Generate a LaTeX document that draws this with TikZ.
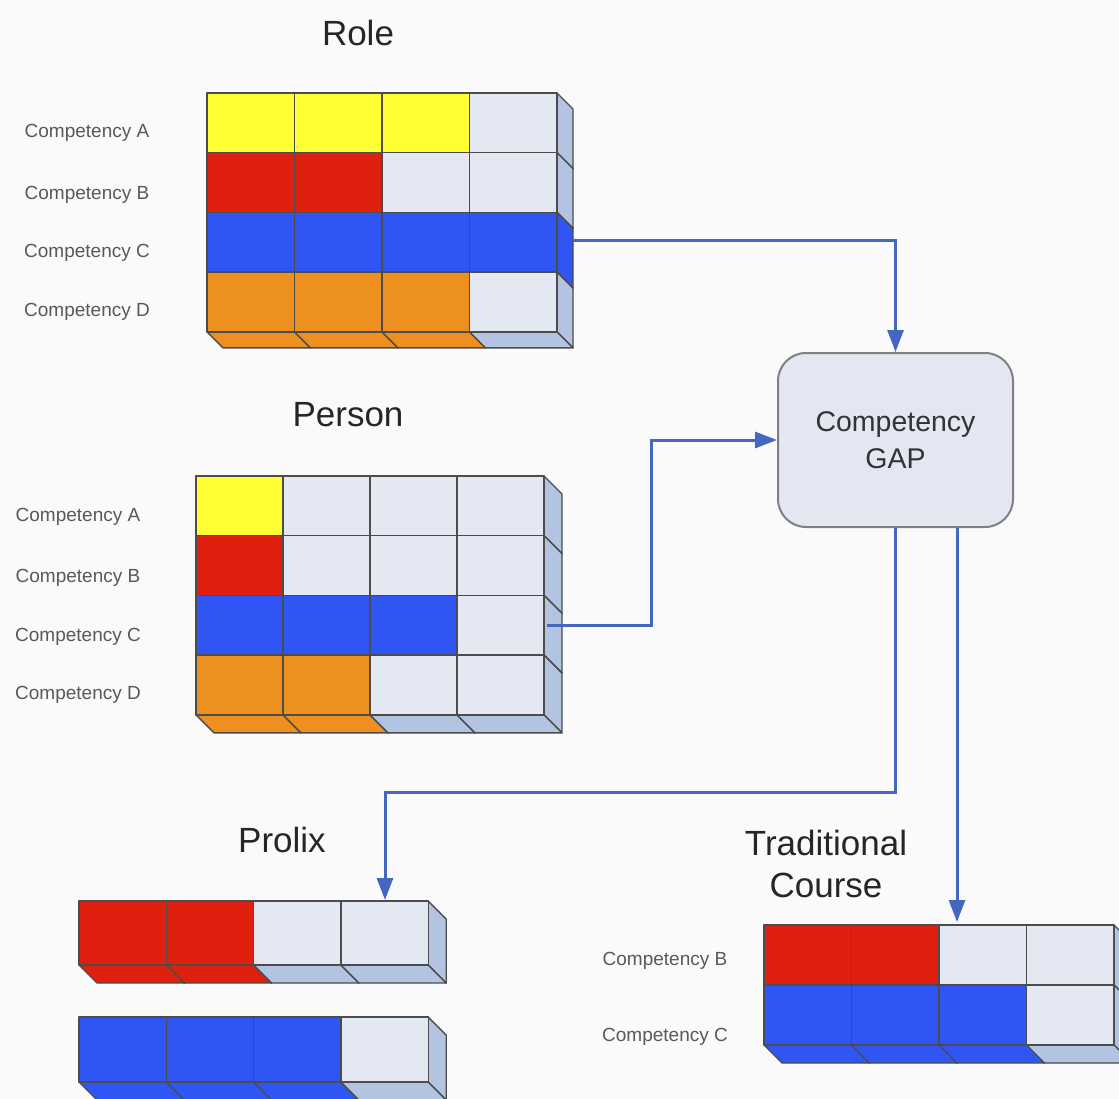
\documentclass[tikz,border=0pt]{standalone}
\usepackage{fontspec}
\setmainfont{Liberation Sans}
\usetikzlibrary{arrows.meta}

\definecolor{cY}{HTML}{FFFF33}
\definecolor{cR}{HTML}{E0200E}
\definecolor{cB}{HTML}{2F56F5}
\definecolor{cO}{HTML}{EE9020}
\definecolor{cE}{HTML}{E4E8F2}
\colorlet{sY}{cY}
\colorlet{sR}{cR}
\colorlet{sB}{cB}
\colorlet{sO}{cO}
\definecolor{sE}{HTML}{B2C4E2}
\definecolor{flowblue}{HTML}{4468C0}
\definecolor{gapgray}{HTML}{E3E7F1}

% one block: x, y, width, height, depth, colour letter
\newcommand{\cube}[6]{%
  \filldraw[edge, fill=s#6] (#1+#3,#2) -- ++(#5,#5) -- ++(0,#4) -- ++(-#5,-#5) -- cycle;
  \filldraw[edge, fill=s#6] (#1,#2+#4) -- ++(#5,#5) -- ++(#3,0) -- ++(-#5,-#5) -- cycle;
  \filldraw[edge, fill=c#6] (#1,#2) rectangle ++(#3,#4);}

% rows of blocks: x0, y0, width, height, depth, {{row},{row},...}
\newcommand{\cubegrid}[6]{%
  \foreach \row [count=\r from 0] in {#6}
    \foreach \k [count=\i from 0] in \row
      \cube{#1+\i*#3}{#2+\r*#4}{#3}{#4}{#5}{\k};}

\begin{document}
\begin{tikzpicture}[x=1pt, y=-1pt,
    edge/.style = {draw=black!70, line width=1.4pt, line join=round},
    title/.style = {font=\fontsize{35}{42}\selectfont, text=black!85},
    comp/.style = {font=\fontsize{19}{22}\selectfont, text=black!65},
    gapbox/.style = {draw=black!50, fill=gapgray, line width=2pt, rounded corners=28pt,
                     minimum width=235pt, minimum height=174pt, align=center,
                     font=\fontsize{28.5}{37}\selectfont, text=black!80},
    flow/.style = {draw=flowblue, line width=3pt, -{Triangle[length=22pt,width=16pt]}}]

    \useasboundingbox (0,0) rectangle (1119,1099);
    \clip (0,0) rectangle (1119,1099);
    \fill[black!2] (0,0) rectangle (1119,1099);

    % role
    \node[title] (role) at (358,33) {Role};
    \cubegrid{207}{93}{87.5}{59.7}{16}{{Y,Y,Y,E},{R,R,E,E},{B,B,B,B},{O,O,O,E}}
    \foreach \n/\y in {A/133,B/195,C/253,D/312}
        \node[comp] (role-\n) at (87,\y) {Competency \n};

    % person
    \node[title] (person) at (348,415) {Person};
    \cubegrid{196}{476}{87}{59.7}{18}{{Y,E,E,E},{R,E,E,E},{B,B,B,E},{O,O,E,E}}
    \foreach \n/\y in {A/517,B/578,C/637,D/695}
        \node[comp] (person-\n) at (78,\y) {Competency \n};

    % prolix
    \node[title] (prolix) at (282,840) {Prolix};
    \cubegrid{79}{901}{87.3}{64}{18}{{R,R,E,E}}
    \cubegrid{79}{1017}{87.3}{65}{18}{{B,B,B,E}}

    % traditional course
    \node[title, align=center] (trad) at (826,864) {Traditional\\Course};
    \cubegrid{764}{925}{87.5}{60}{18}{{R,R,E,E},{B,B,B,E}}
    \node[comp] (trad-B) at (665,961) {Competency B};
    \node[comp] (trad-C) at (665,1037) {Competency C};

    % gap
    \node[gapbox] (gap) at (895.5,440) {Competency\\GAP};

    \coordinate (roleC) at (573,241);
    \coordinate (personC) at (547,625);
    \coordinate (prolixTop) at (385,900);
    \coordinate (tradTop) at (957,922);

    \draw[flow] (roleC) -| (gap.north);
    \draw[flow] (personC) -- ++(104,0) |- (gap.west);
    \draw[flow] (gap.south) -- ++(0,264) -| (prolixTop);
    \draw[flow] (gap.south -| tradTop) -- (tradTop);

\end{tikzpicture}
\end{document}
